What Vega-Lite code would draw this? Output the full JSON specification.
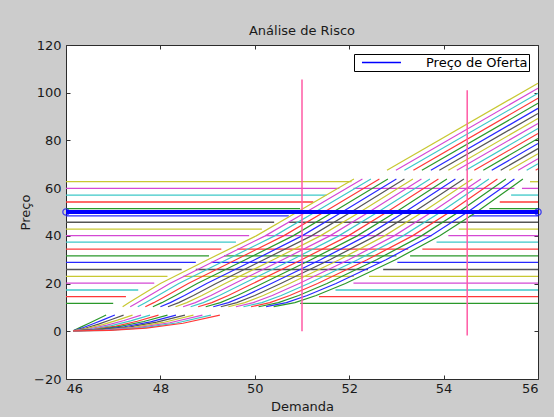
{
"$schema":"https://vega.github.io/schema/vega-lite/v6.json",
"width":472,"height":334,
"autosize":{"type":"none"},
"padding":{"left":66,"top":45,"right":16,"bottom":38},
"background":"#cccccc",
"config":{
 "view":{"fill":"white","stroke":"#2b2b2b","strokeWidth":1},
 "font":"DejaVu Sans",
 "axis":{"grid":false,"domain":false,"tickColor":"#333333","tickSize":-4,"labelFont":"DejaVu Sans","labelFontSize":13,"labelColor":"#1a1a1a","titleFont":"DejaVu Sans","titleFontSize":13,"titleFontWeight":"normal","titleColor":"#1a1a1a"},
 "legend":{"orient":"top-right","offset":9,"strokeColor":"black","fillColor":"white","padding":1,"cornerRadius":0,"symbolType":"M-0.08,0H5.92","symbolSize":169,"symbolStrokeWidth":1.3,"labelOffset":56,"labelFont":"DejaVu Sans","labelFontSize":13,"labelColor":"black"}
},
"title":{"text":"Análise de Risco","font":"DejaVu Sans","fontSize":13,"fontWeight":"normal","color":"#1a1a1a","offset":-9,"baseline":"alphabetic","frame":"group","anchor":"middle"},
"datasets":{
"horiz":[
{"y":62.7,"x":46,"x2":52.05,"c":"y"},{"y":62.7,"x":55.83,"x2":56,"c":"y"},
{"y":59.9,"x":46,"x2":51.79,"c":"m"},{"y":59.9,"x":52.09,"x2":55.5,"c":"m"},{"y":59.9,"x":55.66,"x2":56,"c":"m"},
{"y":57.1,"x":46,"x2":51.52,"c":"c"},{"y":57.1,"x":55.43,"x2":56,"c":"c"},
{"y":54.2,"x":46,"x2":51.24,"c":"r"},{"y":54.2,"x":55.19,"x2":56,"c":"r"},
{"y":51.4,"x":46,"x2":50.96,"c":"g"},{"y":51.4,"x":54.97,"x2":56,"c":"g"},
{"y":48.4,"x":46,"x2":50.72,"c":"b"},{"y":48.4,"x":54.55,"x2":56,"c":"b"},
{"y":45.7,"x":46,"x2":50.41,"c":"k"},{"y":45.7,"x":50.72,"x2":56,"c":"k"},
{"y":42.8,"x":46,"x2":50.15,"c":"y"},{"y":42.8,"x":54.32,"x2":56,"c":"y"},
{"y":40.1,"x":46,"x2":49.88,"c":"m"},{"y":40.1,"x":50.22,"x2":53.75,"c":"m"},{"y":40.1,"x":54.1,"x2":56,"c":"m"},
{"y":37.4,"x":46,"x2":49.6,"c":"c"},{"y":37.4,"x":53.85,"x2":56,"c":"c"},
{"y":34.4,"x":46,"x2":49.29,"c":"r"},{"y":34.4,"x":49.63,"x2":53.25,"c":"r"},{"y":34.4,"x":53.55,"x2":56,"c":"r"},
{"y":31.6,"x":46,"x2":49.03,"c":"g"},{"y":31.6,"x":49.35,"x2":53.0,"c":"g"},{"y":31.6,"x":53.29,"x2":56,"c":"g"},
{"y":28.9,"x":46,"x2":48.75,"c":"b"},{"y":28.9,"x":49.07,"x2":52.68,"c":"b"},{"y":28.9,"x":53.02,"x2":56,"c":"b"},
{"y":25.9,"x":46,"x2":48.45,"c":"k"},{"y":25.9,"x":48.75,"x2":52.4,"c":"k"},{"y":25.9,"x":52.72,"x2":56,"c":"k"},
{"y":23.0,"x":46,"x2":48.15,"c":"y"},{"y":23.0,"x":48.48,"x2":52.1,"c":"y"},{"y":23.0,"x":52.42,"x2":56,"c":"y"},
{"y":20.2,"x":46,"x2":47.87,"c":"m"},{"y":20.2,"x":52.09,"x2":56,"c":"m"},
{"y":17.3,"x":46,"x2":47.53,"c":"c"},{"y":17.3,"x":51.71,"x2":56,"c":"c"},
{"y":14.5,"x":46,"x2":47.27,"c":"r"},{"y":14.5,"x":51.36,"x2":56,"c":"r"},
{"y":11.7,"x":46,"x2":47.0,"c":"g"},{"y":11.7,"x":50.96,"x2":56,"c":"g"}
],
"band":[
{"l":0,"c":"y","x":47.20,"y":10.3},{"l":0,"c":"y","x":47.33,"y":12},{"l":0,"c":"y","x":47.58,"y":15},{"l":0,"c":"y","x":48.00,"y":20},{"l":0,"c":"y","x":49.00,"y":30},{"l":0,"c":"y","x":50.03,"y":40},{"l":0,"c":"y","x":50.90,"y":50},{"l":0,"c":"y","x":52.10,"y":63.8},
{"l":1,"c":"m","x":47.36,"y":10.3},{"l":1,"c":"m","x":47.51,"y":12},{"l":1,"c":"m","x":47.77,"y":15},{"l":1,"c":"m","x":48.20,"y":20},{"l":1,"c":"m","x":49.20,"y":30},{"l":1,"c":"m","x":50.22,"y":40},{"l":1,"c":"m","x":51.09,"y":50},{"l":1,"c":"m","x":52.28,"y":63.8},
{"l":2,"c":"c","x":47.52,"y":10.3},{"l":2,"c":"c","x":47.68,"y":12},{"l":2,"c":"c","x":47.95,"y":15},{"l":2,"c":"c","x":48.39,"y":20},{"l":2,"c":"c","x":49.40,"y":30},{"l":2,"c":"c","x":50.42,"y":40},{"l":2,"c":"c","x":51.28,"y":50},{"l":2,"c":"c","x":52.46,"y":63.8},
{"l":3,"c":"r","x":47.68,"y":10.3},{"l":3,"c":"r","x":47.86,"y":12},{"l":3,"c":"r","x":48.14,"y":15},{"l":3,"c":"r","x":48.59,"y":20},{"l":3,"c":"r","x":49.60,"y":30},{"l":3,"c":"r","x":50.61,"y":40},{"l":3,"c":"r","x":51.47,"y":50},{"l":3,"c":"r","x":52.64,"y":63.8},
{"l":4,"c":"g","x":47.84,"y":10.3},{"l":4,"c":"g","x":48.03,"y":12},{"l":4,"c":"g","x":48.32,"y":15},{"l":4,"c":"g","x":48.78,"y":20},{"l":4,"c":"g","x":49.80,"y":30},{"l":4,"c":"g","x":50.81,"y":40},{"l":4,"c":"g","x":51.66,"y":50},{"l":4,"c":"g","x":52.82,"y":63.8},
{"l":5,"c":"b","x":48.00,"y":10.3},{"l":5,"c":"b","x":48.21,"y":12},{"l":5,"c":"b","x":48.51,"y":15},{"l":5,"c":"b","x":48.98,"y":20},{"l":5,"c":"b","x":50.00,"y":30},{"l":5,"c":"b","x":51.00,"y":40},{"l":5,"c":"b","x":51.85,"y":50},{"l":5,"c":"b","x":53.00,"y":63.8},
{"l":6,"c":"k","x":48.16,"y":10.3},{"l":6,"c":"k","x":48.39,"y":12},{"l":6,"c":"k","x":48.70,"y":15},{"l":6,"c":"k","x":49.18,"y":20},{"l":6,"c":"k","x":50.19,"y":30},{"l":6,"c":"k","x":51.20,"y":40},{"l":6,"c":"k","x":52.04,"y":50},{"l":6,"c":"k","x":53.17,"y":63.8},
{"l":7,"c":"y","x":48.32,"y":10.3},{"l":7,"c":"y","x":48.56,"y":12},{"l":7,"c":"y","x":48.88,"y":15},{"l":7,"c":"y","x":49.37,"y":20},{"l":7,"c":"y","x":50.39,"y":30},{"l":7,"c":"y","x":51.39,"y":40},{"l":7,"c":"y","x":52.23,"y":50},{"l":7,"c":"y","x":53.35,"y":63.8},
{"l":8,"c":"m","x":48.48,"y":10.3},{"l":8,"c":"m","x":48.74,"y":12},{"l":8,"c":"m","x":49.07,"y":15},{"l":8,"c":"m","x":49.57,"y":20},{"l":8,"c":"m","x":50.59,"y":30},{"l":8,"c":"m","x":51.59,"y":40},{"l":8,"c":"m","x":52.42,"y":50},{"l":8,"c":"m","x":53.53,"y":63.8},
{"l":9,"c":"c","x":48.64,"y":10.3},{"l":9,"c":"c","x":48.91,"y":12},{"l":9,"c":"c","x":49.25,"y":15},{"l":9,"c":"c","x":49.76,"y":20},{"l":9,"c":"c","x":50.79,"y":30},{"l":9,"c":"c","x":51.78,"y":40},{"l":9,"c":"c","x":52.61,"y":50},{"l":9,"c":"c","x":53.71,"y":63.8},
{"l":10,"c":"r","x":48.80,"y":10.3},{"l":10,"c":"r","x":49.09,"y":12},{"l":10,"c":"r","x":49.44,"y":15},{"l":10,"c":"r","x":49.96,"y":20},{"l":10,"c":"r","x":50.99,"y":30},{"l":10,"c":"r","x":51.98,"y":40},{"l":10,"c":"r","x":52.80,"y":50},{"l":10,"c":"r","x":53.89,"y":63.8},
{"l":11,"c":"g","x":48.96,"y":10.3},{"l":11,"c":"g","x":49.27,"y":12},{"l":11,"c":"g","x":49.63,"y":15},{"l":11,"c":"g","x":50.16,"y":20},{"l":11,"c":"g","x":51.19,"y":30},{"l":11,"c":"g","x":52.17,"y":40},{"l":11,"c":"g","x":52.99,"y":50},{"l":11,"c":"g","x":54.07,"y":63.8},
{"l":12,"c":"b","x":49.12,"y":10.3},{"l":12,"c":"b","x":49.44,"y":12},{"l":12,"c":"b","x":49.81,"y":15},{"l":12,"c":"b","x":50.35,"y":20},{"l":12,"c":"b","x":51.39,"y":30},{"l":12,"c":"b","x":52.36,"y":40},{"l":12,"c":"b","x":53.18,"y":50},{"l":12,"c":"b","x":54.25,"y":63.8},
{"l":13,"c":"k","x":49.28,"y":10.3},{"l":13,"c":"k","x":49.62,"y":12},{"l":13,"c":"k","x":50.00,"y":15},{"l":13,"c":"k","x":50.55,"y":20},{"l":13,"c":"k","x":51.59,"y":30},{"l":13,"c":"k","x":52.56,"y":40},{"l":13,"c":"k","x":53.37,"y":50},{"l":13,"c":"k","x":54.43,"y":63.8},
{"l":14,"c":"y","x":49.44,"y":10.3},{"l":14,"c":"y","x":49.79,"y":12},{"l":14,"c":"y","x":50.18,"y":15},{"l":14,"c":"y","x":50.74,"y":20},{"l":14,"c":"y","x":51.79,"y":30},{"l":14,"c":"y","x":52.75,"y":40},{"l":14,"c":"y","x":53.56,"y":50},{"l":14,"c":"y","x":54.61,"y":63.8},
{"l":15,"c":"m","x":49.60,"y":10.3},{"l":15,"c":"m","x":49.97,"y":12},{"l":15,"c":"m","x":50.37,"y":15},{"l":15,"c":"m","x":50.94,"y":20},{"l":15,"c":"m","x":51.99,"y":30},{"l":15,"c":"m","x":52.95,"y":40},{"l":15,"c":"m","x":53.75,"y":50},{"l":15,"c":"m","x":54.79,"y":63.8},
{"l":16,"c":"c","x":49.76,"y":10.3},{"l":16,"c":"c","x":50.15,"y":12},{"l":16,"c":"c","x":50.56,"y":15},{"l":16,"c":"c","x":51.14,"y":20},{"l":16,"c":"c","x":52.18,"y":30},{"l":16,"c":"c","x":53.14,"y":40},{"l":16,"c":"c","x":53.94,"y":50},{"l":16,"c":"c","x":54.96,"y":63.8},
{"l":17,"c":"r","x":49.92,"y":10.3},{"l":17,"c":"r","x":50.32,"y":12},{"l":17,"c":"r","x":50.74,"y":15},{"l":17,"c":"r","x":51.33,"y":20},{"l":17,"c":"r","x":52.38,"y":30},{"l":17,"c":"r","x":53.34,"y":40},{"l":17,"c":"r","x":54.13,"y":50},{"l":17,"c":"r","x":55.14,"y":63.8},
{"l":18,"c":"g","x":50.08,"y":10.3},{"l":18,"c":"g","x":50.50,"y":12},{"l":18,"c":"g","x":50.93,"y":15},{"l":18,"c":"g","x":51.53,"y":20},{"l":18,"c":"g","x":52.58,"y":30},{"l":18,"c":"g","x":53.53,"y":40},{"l":18,"c":"g","x":54.32,"y":50},{"l":18,"c":"g","x":55.32,"y":63.8},
{"l":19,"c":"b","x":50.24,"y":10.3},{"l":19,"c":"b","x":50.67,"y":12},{"l":19,"c":"b","x":51.11,"y":15},{"l":19,"c":"b","x":51.72,"y":20},{"l":19,"c":"b","x":52.78,"y":30},{"l":19,"c":"b","x":53.73,"y":40},{"l":19,"c":"b","x":54.51,"y":50},{"l":19,"c":"b","x":55.50,"y":63.8},
{"l":20,"c":"g","x":50.40,"y":10.3},{"l":20,"c":"g","x":50.85,"y":12},{"l":20,"c":"g","x":51.30,"y":15},{"l":20,"c":"g","x":51.92,"y":20},{"l":20,"c":"g","x":52.98,"y":30},{"l":20,"c":"g","x":53.92,"y":40},{"l":20,"c":"g","x":54.70,"y":50},{"l":20,"c":"g","x":55.68,"y":63.8}
],
"upper":[
{"x":52.80,"y":67.5,"x2":56,"y2":104.0,"c":"y"},
{"x":52.99,"y":67.5,"x2":56,"y2":101.87,"c":"m"},
{"x":53.17,"y":67.5,"x2":56,"y2":99.76,"c":"c"},
{"x":53.36,"y":67.5,"x2":56,"y2":97.65,"c":"r"},
{"x":53.54,"y":67.5,"x2":56,"y2":95.54,"c":"g"},
{"x":53.73,"y":67.5,"x2":56,"y2":93.44,"c":"b"},
{"x":53.91,"y":67.5,"x2":56,"y2":91.33,"c":"k"},
{"x":54.10,"y":67.5,"x2":56,"y2":89.22,"c":"y"},
{"x":54.28,"y":67.5,"x2":56,"y2":87.11,"c":"m"},
{"x":54.47,"y":67.5,"x2":56,"y2":85.0,"c":"c"},
{"x":54.65,"y":67.5,"x2":56,"y2":82.89,"c":"r"},
{"x":54.84,"y":67.5,"x2":56,"y2":80.78,"c":"g"},
{"x":55.02,"y":67.5,"x2":56,"y2":78.67,"c":"b"},
{"x":55.21,"y":67.5,"x2":56,"y2":76.56,"c":"k"},
{"x":55.39,"y":67.5,"x2":56,"y2":74.45,"c":"y"},
{"x":55.58,"y":67.5,"x2":56,"y2":72.35,"c":"m"},
{"x":55.76,"y":67.5,"x2":56,"y2":70.24,"c":"c"},
{"x":55.95,"y":67.5,"x2":56,"y2":68.13,"c":"r"}
],
"bottom":[
{"l":0,"c":"g","x":46.15,"y":0.2},{"l":0,"c":"g","x":46.325,"y":1.85},{"l":0,"c":"g","x":46.5,"y":3.5},{"l":0,"c":"g","x":46.675,"y":5.15},{"l":0,"c":"g","x":46.85,"y":6.8},
{"l":1,"c":"b","x":46.15,"y":0.2},{"l":1,"c":"b","x":46.37,"y":1.60},{"l":1,"c":"b","x":46.59,"y":3.24},{"l":1,"c":"b","x":46.81,"y":4.98},{"l":1,"c":"b","x":47.035,"y":6.8},
{"l":2,"c":"k","x":46.15,"y":0.2},{"l":2,"c":"k","x":46.42,"y":1.38},{"l":2,"c":"k","x":46.69,"y":2.99},{"l":2,"c":"k","x":46.95,"y":4.82},{"l":2,"c":"k","x":47.22,"y":6.8},
{"l":3,"c":"y","x":46.15,"y":0.2},{"l":3,"c":"y","x":46.46,"y":1.20},{"l":3,"c":"y","x":46.78,"y":2.77},{"l":3,"c":"y","x":47.09,"y":4.66},{"l":3,"c":"y","x":47.41,"y":6.8},
{"l":4,"c":"m","x":46.15,"y":0.2},{"l":4,"c":"m","x":46.51,"y":1.05},{"l":4,"c":"m","x":46.87,"y":2.57},{"l":4,"c":"m","x":47.23,"y":4.51},{"l":4,"c":"m","x":47.59,"y":6.8},
{"l":5,"c":"c","x":46.15,"y":0.2},{"l":5,"c":"c","x":46.56,"y":0.92},{"l":5,"c":"c","x":46.96,"y":2.38},{"l":5,"c":"c","x":47.37,"y":4.37},{"l":5,"c":"c","x":47.78,"y":6.8},
{"l":6,"c":"r","x":46.15,"y":0.2},{"l":6,"c":"r","x":46.60,"y":0.81},{"l":6,"c":"r","x":47.06,"y":2.20},{"l":6,"c":"r","x":47.51,"y":4.22},{"l":6,"c":"r","x":47.96,"y":6.8},
{"l":7,"c":"g","x":46.15,"y":0.2},{"l":7,"c":"g","x":46.65,"y":0.71},{"l":7,"c":"g","x":47.15,"y":2.04},{"l":7,"c":"g","x":47.65,"y":4.09},{"l":7,"c":"g","x":48.15,"y":6.8},
{"l":8,"c":"b","x":46.15,"y":0.2},{"l":8,"c":"b","x":46.70,"y":0.64},{"l":8,"c":"b","x":47.24,"y":1.90},{"l":8,"c":"b","x":47.79,"y":3.96},{"l":8,"c":"b","x":48.33,"y":6.8},
{"l":9,"c":"k","x":46.15,"y":0.2},{"l":9,"c":"k","x":46.74,"y":0.57},{"l":9,"c":"k","x":47.33,"y":1.76},{"l":9,"c":"k","x":47.92,"y":3.83},{"l":9,"c":"k","x":48.52,"y":6.8},
{"l":10,"c":"y","x":46.15,"y":0.2},{"l":10,"c":"y","x":46.79,"y":0.51},{"l":10,"c":"y","x":47.43,"y":1.64},{"l":10,"c":"y","x":48.06,"y":3.70},{"l":10,"c":"y","x":48.70,"y":6.8},
{"l":11,"c":"m","x":46.15,"y":0.2},{"l":11,"c":"m","x":46.83,"y":0.46},{"l":11,"c":"m","x":47.52,"y":1.52},{"l":11,"c":"m","x":48.20,"y":3.59},{"l":11,"c":"m","x":48.89,"y":6.8},
{"l":12,"c":"c","x":46.15,"y":0.2},{"l":12,"c":"c","x":46.88,"y":0.42},{"l":12,"c":"c","x":47.61,"y":1.42},{"l":12,"c":"c","x":48.34,"y":3.47},{"l":12,"c":"c","x":49.07,"y":6.8},
{"l":13,"c":"r","x":46.15,"y":0.2},{"l":13,"c":"r","x":46.93,"y":0.39},{"l":13,"c":"r","x":47.70,"y":1.32},{"l":13,"c":"r","x":48.48,"y":3.36},{"l":13,"c":"r","x":49.26,"y":6.8}
],
"vert":[{"x":51.0,"y":0,"y2":105.5},{"x":54.5,"y":-1.8,"y2":101}],
"oferta":[{"s":"Preço de Oferta","x":46,"x2":56,"y":50}],
"ends":[{"x":46,"y":50},{"x":56,"y":50}]
},
"layer":[
{"data":{"name":"horiz"},"mark":{"type":"rule","strokeWidth":1.3},
 "encoding":{
  "x":{"field":"x","type":"quantitative","scale":{"domain":[46,56],"nice":false,"zero":false},"axis":{"orient":"bottom","values":[46,48,50,52,54,56],"title":"Demanda","labelPadding":7.5,"titlePadding":4.5}},
  "x2":{"field":"x2"},
  "y":{"field":"y","type":"quantitative","scale":{"domain":[-20,120],"nice":false,"zero":false},"axis":{"orient":"left","values":[-20,0,20,40,60,80,100,120],"title":"Preço","labelPadding":9,"titlePadding":1.5}},
  "color":{"field":"c","type":"nominal","scale":{"domain":["y","m","c","r","g","b","k"],"range":["#c8c832","#d448d4","#3cc8c8","#ff3838","#2a982a","#2828ff","#555555"]},"legend":null}}},
{"data":{"name":"band"},"mark":{"type":"line","strokeWidth":1.2},
 "encoding":{
  "x":{"field":"x","type":"quantitative","scale":{"domain":[46,56],"nice":false,"zero":false},"axis":null},
  "y":{"field":"y","type":"quantitative","scale":{"domain":[-20,120],"nice":false,"zero":false},"axis":null},
  "detail":{"field":"l","type":"nominal"},
  "color":{"field":"c","type":"nominal","scale":{"domain":["y","m","c","r","g","b","k"],"range":["#c8c832","#d448d4","#3cc8c8","#ff3838","#2a982a","#2828ff","#555555"]},"legend":null}}},
{"data":{"name":"upper"},"mark":{"type":"rule","strokeWidth":1.2},
 "encoding":{
  "x":{"field":"x","type":"quantitative","scale":{"domain":[46,56],"nice":false,"zero":false},"axis":null},
  "y":{"field":"y","type":"quantitative","scale":{"domain":[-20,120],"nice":false,"zero":false},"axis":null},
  "x2":{"field":"x2"},"y2":{"field":"y2"},
  "color":{"field":"c","type":"nominal","scale":{"domain":["y","m","c","r","g","b","k"],"range":["#c8c832","#d448d4","#3cc8c8","#ff3838","#2a982a","#2828ff","#555555"]},"legend":null}}},
{"data":{"name":"bottom"},"mark":{"type":"line","strokeWidth":1.2},
 "encoding":{
  "x":{"field":"x","type":"quantitative","scale":{"domain":[46,56],"nice":false,"zero":false},"axis":null},
  "y":{"field":"y","type":"quantitative","scale":{"domain":[-20,120],"nice":false,"zero":false},"axis":null},
  "detail":{"field":"l","type":"nominal"},
  "color":{"field":"c","type":"nominal","scale":{"domain":["y","m","c","r","g","b","k"],"range":["#c8c832","#d448d4","#3cc8c8","#ff3838","#2a982a","#2828ff","#555555"]},"legend":null}}},
{"data":{"name":"vert"},"mark":{"type":"rule","strokeWidth":1.5,"color":"#ff5aa5"},
 "encoding":{
  "x":{"field":"x","type":"quantitative","scale":{"domain":[46,56],"nice":false,"zero":false},"axis":{"orient":"top","values":[46,48,50,52,54,56],"labels":false,"title":null}},
  "y":{"field":"y","type":"quantitative","scale":{"domain":[-20,120],"nice":false,"zero":false},"axis":{"orient":"right","values":[-20,0,20,40,60,80,100,120],"labels":false,"title":null}},
  "y2":{"field":"y2"}}},
{"data":{"name":"oferta"},"mark":{"type":"rule","strokeWidth":4},
 "encoding":{
  "x":{"field":"x","type":"quantitative","scale":{"domain":[46,56],"nice":false,"zero":false},"axis":null},
  "x2":{"field":"x2"},
  "y":{"field":"y","type":"quantitative","scale":{"domain":[-20,120],"nice":false,"zero":false},"axis":null},
  "color":{"field":"s","type":"nominal","scale":{"domain":["Preço de Oferta"],"range":["#0000ff"]},"legend":{"title":null}}}},
{"data":{"name":"ends"},"mark":{"type":"point","shape":"circle","filled":false,"size":40,"strokeWidth":1.3,"color":"#0000ff"},
 "encoding":{
  "x":{"field":"x","type":"quantitative","scale":{"domain":[46,56],"nice":false,"zero":false},"axis":null},
  "y":{"field":"y","type":"quantitative","scale":{"domain":[-20,120],"nice":false,"zero":false},"axis":null}}}
],
"resolve":{"scale":{"color":"independent"},"axis":{"x":"independent","y":"independent"}}
}
